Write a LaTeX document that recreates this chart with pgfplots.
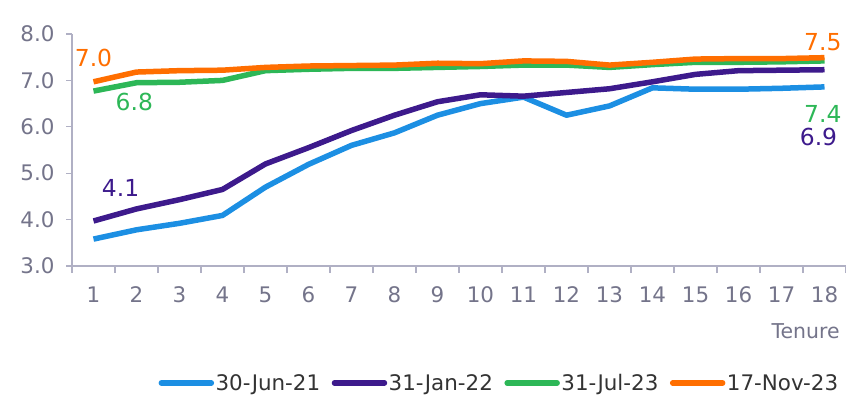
\documentclass[border=0pt]{standalone}
\usepackage{pgfplots}
\pgfplotsset{compat=1.18}
\usepackage{fontspec}
\setmainfont{DejaVu Sans}
\definecolor{cblue}{HTML}{1C8FE3}
\definecolor{cpurple}{HTML}{3D1A8C}
\definecolor{cgreen}{HTML}{2DB757}
\definecolor{corange}{HTML}{FF6E00}
\definecolor{axisgray}{HTML}{B0B0C4}
\definecolor{ticklab}{HTML}{74748A}
\definecolor{legtext}{HTML}{333333}
\pgfplotsset{
  legend image code/.code={\draw[#1, line width=5.5bp, line cap=round] (0bp,0bp) -- (50bp,0bp);}
}
\begin{document}
\begin{tikzpicture}
\path[use as bounding box] (-72bp,-132bp) rectangle (774bp,266bp);
\begin{axis}[
  scale only axis, width=774bp, height=232bp,
  xmin=0.5, xmax=18.5, ymin=3, ymax=8,
  axis lines=left,
  axis line style={-, color=axisgray, line width=1.2bp},
  tick align=outside,
  xtick={1,...,18},
  minor xtick={0.5,1.5,...,18.5},
  major x tick style={draw=none},
  minor tick length=7bp,
  major tick length=6bp,
  tick style={color=axisgray, line width=1.2bp},
  ytick={3,4,5,6,7,8},
  /pgf/number format/assume math mode=true,
  yticklabel style={/pgf/number format/.cd, fixed, fixed zerofill, precision=1, /tikz/.cd, xshift=-8bp},
  xticklabel style={yshift=-11bp},
  ticklabel style={font=\fontsize{21.5}{22}\selectfont, text=ticklab},
  xlabel={Tenure},
  xlabel style={at={(axis description cs:0.992,-0.28)}, anchor=east, inner sep=0pt, font=\fontsize{20.5}{22}\selectfont, text=ticklab},
  clip=false,
  line join=round,
  legend style={at={(axis description cs:0.992,-0.504)}, anchor=east, draw=none, fill=none,
    legend columns=4, font=\fontsize{21.5}{23}\selectfont, text=legtext,
    /tikz/every even column/.append style={column sep=10bp},
    inner sep=0pt, nodes={inner sep=1.5bp}},
  legend cell align=left,
]
\addplot[cblue, line width=5.5bp, no markers] coordinates {
(1,3.58)(2,3.78)(3,3.92)(4,4.09)(5,4.70)(6,5.19)(7,5.60)(8,5.87)(9,6.25)
(10,6.50)(11,6.64)(12,6.25)(13,6.45)(14,6.84)(15,6.81)(16,6.81)(17,6.83)(18,6.86)};
\addlegendentry{30-Jun-21}
\addplot[cpurple, line width=5.5bp, no markers] coordinates {
(1,3.97)(2,4.23)(3,4.43)(4,4.65)(5,5.20)(6,5.55)(7,5.92)(8,6.25)(9,6.54)
(10,6.69)(11,6.66)(12,6.74)(13,6.82)(14,6.97)(15,7.13)(16,7.21)(17,7.22)(18,7.23)};
\addlegendentry{31-Jan-22}
\addplot[cgreen, line width=5.5bp, no markers] coordinates {
(1,6.77)(2,6.95)(3,6.96)(4,7.00)(5,7.21)(6,7.24)(7,7.26)(8,7.26)(9,7.28)
(10,7.30)(11,7.33)(12,7.33)(13,7.28)(14,7.34)(15,7.39)(16,7.39)(17,7.40)(18,7.42)};
\addlegendentry{31-Jul-23}
\addplot[corange, line width=5.5bp, no markers] coordinates {
(1,6.97)(2,7.18)(3,7.21)(4,7.22)(5,7.28)(6,7.31)(7,7.32)(8,7.33)(9,7.37)
(10,7.36)(11,7.42)(12,7.41)(13,7.33)(14,7.39)(15,7.46)(16,7.47)(17,7.47)(18,7.49)};
\addlegendentry{17-Nov-23}
\tikzset{dl/.style={inner sep=0pt, font=\fontsize{23.5}{25}\selectfont}}
\node[dl, text=corange] at (axis cs:1,7.49) {7.0};
\node[dl, text=cgreen] at (axis cs:1.95,6.53) {6.8};
\node[dl, text=cpurple] at (axis cs:1.63,4.69) {4.1};
\node[dl, text=corange] at (axis cs:17.96,7.83) {7.5};
\node[dl, text=cgreen] at (axis cs:17.96,6.27) {7.4};
\node[dl, text=cpurple] at (axis cs:17.86,5.79) {6.9};
\end{axis}
\end{tikzpicture}
\end{document}
